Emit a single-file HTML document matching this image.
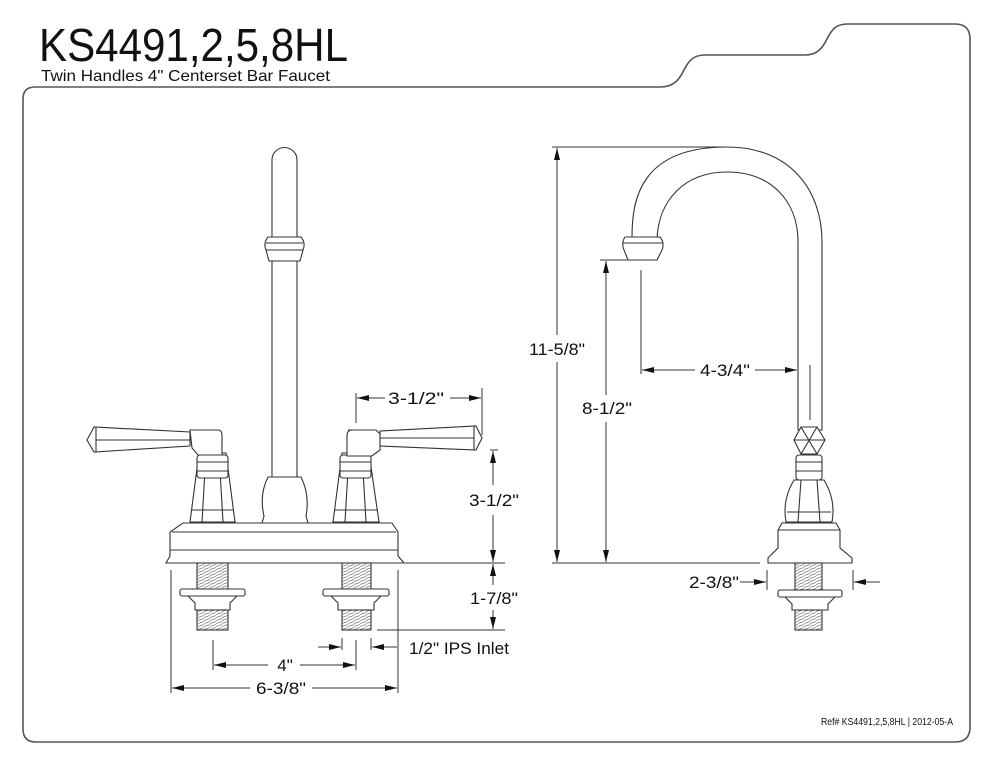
<!DOCTYPE html>
<html><head><meta charset="utf-8"><style>
html,body{margin:0;padding:0;background:#fff;}
svg{display:block;}
text{font-family:"Liberation Sans",sans-serif;fill:#111;}
</style></head><body>
<svg width="990" height="766" viewBox="0 0 990 766" xmlns="http://www.w3.org/2000/svg">
<defs>
<marker id="a" viewBox="0 0 12 6" refX="12" refY="3" markerWidth="12" markerHeight="6" orient="auto" markerUnits="userSpaceOnUse"><path d="M0,0L12,3L0,6z" fill="#111"/></marker>
<pattern id="th" width="6" height="3" patternUnits="userSpaceOnUse"><path d="M0,2.5L6,0.5" stroke="#777" stroke-width="0.8"/></pattern>
</defs>
<text x="39" y="61" font-size="46" textLength="309" lengthAdjust="spacingAndGlyphs">KS4491,2,5,8HL</text>
<text x="41" y="81" font-size="16" textLength="289" lengthAdjust="spacingAndGlyphs">Twin Handles 4" Centerset Bar Faucet</text>
<path d="M23,99 Q23,87 35,87 L660,87 C675,87 680,78 684,70 C689,60 694,55 705,55 L805,55 C818,55 823,47 827,39 C832,29 836,24 848,24 L955,24 Q970,24 970,39 L970,727 Q970,742 955,742 L36,742 Q23,742 23,729 Z" fill="none" stroke="#555" stroke-width="1.6"/>
<text x="953" y="725" font-size="10" text-anchor="end" textLength="132" lengthAdjust="spacingAndGlyphs">Ref# KS4491,2,5,8HL | 2012-05-A</text>

<g fill="#fff" stroke="#333" stroke-width="1.1">
<!-- LEFT FAUCET -->
<path d="M272,160 A12.5,12.5 0 0 1 297,160 L297,477 L272,477 Z"/>
<path d="M268,237 L301,237 Q306,243 303,250 L300,261 L269,261 L266,250 Q263,243 268,237 Z"/>
<line x1="266" y1="243" x2="303" y2="243"/><line x1="266" y1="250" x2="303" y2="250"/>
<path d="M268,477 L301,477 Q310,495 306,516 L308,523 L262,523 L264,516 Q259,495 268,477 Z"/>
<!-- base -->
<path d="M183,523 L392,523 L398,532 L398,556 L404,563 L166,563 L170,556 L170,532 Z"/>
<line x1="172" y1="532" x2="396" y2="532"/><line x1="170" y1="550" x2="398" y2="550"/>
<!-- shanks -->
<rect x="197" y="563" width="31" height="26" fill="url(#th)"/>
<rect x="180" y="589" width="65" height="7" rx="2"/>
<path d="M188,596 L237,596 L230,603 L230,610 L195,610 L195,603 Z"/>
<rect x="197" y="610" width="31" height="20" fill="url(#th)"/>
<rect x="342" y="563" width="29" height="26" fill="url(#th)"/>
<rect x="323" y="589" width="66" height="7" rx="2"/>
<path d="M331,596 L381,596 L374,603 L374,610 L338,610 L338,603 Z"/>
<rect x="342" y="610" width="29" height="20" fill="url(#th)"/>
<!-- handles -->
<path d="M199,453 L226,453 L235,522 L190,522 Z"/><line x1="206" y1="453" x2="202" y2="522"/><line x1="219" y1="453" x2="223" y2="522"/><line x1="191" y1="510" x2="234" y2="510"/>
<rect x="197" y="455" width="31" height="23" rx="3"/><line x1="197" y1="462" x2="228" y2="462"/><line x1="197" y1="471" x2="228" y2="471"/>
<path d="M190,430 L218,430 Q222,430 222,436 L222,455 L198,455 L192,448 Z"/>
<path d="M87,440 L94,427 L190,432 L190,446 L94,452 Z"/><line x1="96" y1="427" x2="96" y2="452"/><line x1="96" y1="440" x2="190" y2="440"/>
<path d="M342,453 L369,453 L379,522 L333,522 Z"/><line x1="349" y1="453" x2="345" y2="522"/><line x1="362" y1="453" x2="366" y2="522"/><line x1="334" y1="510" x2="378" y2="510"/>
<rect x="340" y="455" width="31" height="23" rx="3"/><line x1="340" y1="462" x2="371" y2="462"/><line x1="340" y1="471" x2="371" y2="471"/>
<path d="M348,430 L376,430 L380,434 L380,450 L372,456 L347,456 L347,436 Q347,430 352,430 Z"/>
<path d="M482,438 L476,426 L380,431 L380,446 L476,450 Z"/><line x1="474" y1="426" x2="474" y2="450"/><line x1="380" y1="438" x2="474" y2="438"/>

<!-- RIGHT FAUCET -->
<path d="M632,237 C632,200 640,147 727,147 C790,147 822,190 822,242 L822,430 L798,430 L798,242 C798,200 770,172 727,172 C685,172 658,200 657,240 Z"/>
<path d="M625,237 L660,237 Q665,243 662,250 L657,260 L628,260 L624,250 Q621,243 625,237 Z"/>
<line x1="623" y1="243" x2="663" y2="243"/>
<polygon points="801,427 817,427 825,440 817,454 801,454 794,440"/>
<line x1="801" y1="427" x2="817" y2="454"/><line x1="817" y1="427" x2="801" y2="454"/><line x1="794" y1="440" x2="825" y2="440"/>
<rect x="796" y="455" width="26" height="25" rx="3"/><line x1="796" y1="462" x2="822" y2="462"/><line x1="796" y1="471" x2="822" y2="471"/>
<path d="M794,480 L824,480 Q836,500 832,522 L786,522 Q782,500 794,480 Z"/><line x1="801" y1="480" x2="798" y2="522"/><line x1="817" y1="480" x2="820" y2="522"/><line x1="787" y1="512" x2="831" y2="512"/>
<path d="M782,523 L836,523 L840,530 L840,548 L852,558 L852,563 L768,563 L768,558 L778,548 L778,530 Z"/>
<line x1="778" y1="530" x2="840" y2="530"/>
<rect x="795" y="563" width="27" height="27" fill="url(#th)"/>
<rect x="778" y="590" width="64" height="7" rx="2"/>
<path d="M785,597 L835,597 L828,604 L828,610 L792,610 L792,604 Z"/>
<rect x="795" y="610" width="27" height="20" fill="url(#th)"/>
</g>

<g stroke="#333" stroke-width="1" fill="none">
<!-- left dims -->
<line x1="356" y1="423" x2="356" y2="393"/><line x1="482" y1="435" x2="482" y2="388"/>
<line x1="385" y1="398" x2="357" y2="398" marker-end="url(#a)"/><line x1="450" y1="398" x2="481" y2="398" marker-end="url(#a)"/>
<line x1="490" y1="450" x2="498" y2="450"/>
<line x1="405" y1="563" x2="505" y2="563"/><line x1="377" y1="630" x2="505" y2="630"/>
<line x1="493" y1="485" x2="493" y2="451" marker-end="url(#a)"/><line x1="493" y1="515" x2="493" y2="562" marker-end="url(#a)"/>
<line x1="493" y1="585" x2="493" y2="564" marker-end="url(#a)"/><line x1="493" y1="610" x2="493" y2="629" marker-end="url(#a)"/>
<line x1="318" y1="647" x2="341" y2="647" marker-end="url(#a)"/><line x1="397" y1="647" x2="372" y2="647" marker-end="url(#a)"/>
<line x1="342" y1="638" x2="342" y2="650"/><line x1="371" y1="638" x2="371" y2="650"/>
<line x1="213" y1="640" x2="213" y2="670"/><line x1="356" y1="640" x2="356" y2="670"/>
<line x1="268" y1="665" x2="214" y2="665" marker-end="url(#a)"/><line x1="300" y1="665" x2="355" y2="665" marker-end="url(#a)"/>
<line x1="171" y1="570" x2="171" y2="693"/><line x1="398" y1="570" x2="398" y2="693"/>
<line x1="250" y1="688" x2="172" y2="688" marker-end="url(#a)"/><line x1="312" y1="688" x2="397" y2="688" marker-end="url(#a)"/>
<!-- right dims -->
<line x1="552" y1="147" x2="727" y2="147"/><line x1="552" y1="563" x2="760" y2="563"/>
<line x1="557" y1="335" x2="557" y2="148" marker-end="url(#a)"/><line x1="557" y1="362" x2="557" y2="562" marker-end="url(#a)"/>
<line x1="600" y1="260" x2="640" y2="260"/>
<line x1="606" y1="395" x2="606" y2="261" marker-end="url(#a)"/><line x1="606" y1="422" x2="606" y2="562" marker-end="url(#a)"/>
<line x1="641" y1="270" x2="641" y2="374"/><line x1="810" y1="365" x2="810" y2="420"/>
<line x1="695" y1="370" x2="642" y2="370" marker-end="url(#a)"/><line x1="755" y1="370" x2="797" y2="370" marker-end="url(#a)"/>
<line x1="767" y1="570" x2="767" y2="590"/><line x1="853" y1="570" x2="853" y2="590"/>
<line x1="740" y1="582" x2="766" y2="582" marker-end="url(#a)"/><line x1="880" y1="582" x2="854" y2="582" marker-end="url(#a)"/>
</g>

<g font-size="17">
<text x="416" y="404" text-anchor="middle" textLength="56" lengthAdjust="spacingAndGlyphs">3-1/2"</text>
<text x="494" y="506" text-anchor="middle" textLength="50" lengthAdjust="spacingAndGlyphs">3-1/2"</text>
<text x="494" y="604" text-anchor="middle" textLength="48" lengthAdjust="spacingAndGlyphs">1-7/8"</text>
<text x="409" y="654" textLength="100" lengthAdjust="spacingAndGlyphs">1/2" IPS Inlet</text>
<text x="285" y="671" text-anchor="middle">4"</text>
<text x="281" y="694" text-anchor="middle" textLength="50" lengthAdjust="spacingAndGlyphs">6-3/8"</text>
<text x="557" y="355" text-anchor="middle" textLength="56" lengthAdjust="spacingAndGlyphs">11-5/8"</text>
<text x="607" y="414" text-anchor="middle" textLength="50" lengthAdjust="spacingAndGlyphs">8-1/2"</text>
<text x="725" y="376" text-anchor="middle" textLength="50" lengthAdjust="spacingAndGlyphs">4-3/4"</text>
<text x="714" y="588" text-anchor="middle" textLength="50" lengthAdjust="spacingAndGlyphs">2-3/8"</text>
</g>
</svg>
</body></html>
